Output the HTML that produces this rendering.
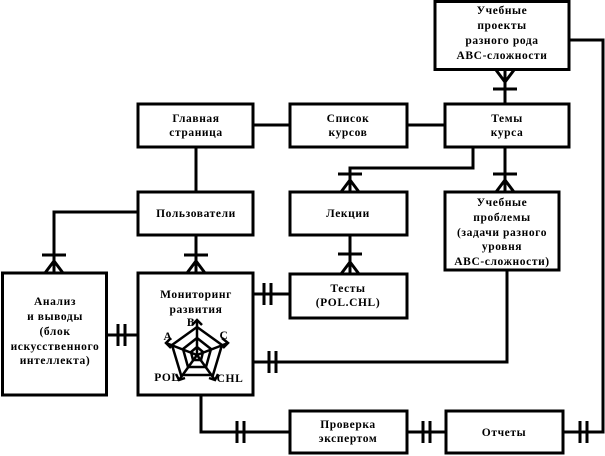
<!DOCTYPE html>
<html><head><meta charset="utf-8"><style>
html,body{margin:0;padding:0;background:#fff}
svg{display:block}
text{font-family:"Liberation Serif","DejaVu Serif",serif;font-size:11.5px;font-weight:bold;text-anchor:middle;fill:#000;letter-spacing:0.6px}
</style></head><body>
<svg width="605" height="456" viewBox="0 0 605 456" xmlns="http://www.w3.org/2000/svg">
<g fill="none" stroke="#000" stroke-width="3">
<rect x="435" y="1.5" width="134" height="68"/>
<rect x="445" y="104" width="124" height="43"/>
<rect x="290" y="104" width="117" height="43"/>
<rect x="138" y="104" width="115" height="43"/>
<rect x="138" y="192" width="115" height="43"/>
<rect x="290" y="192" width="117" height="43"/>
<rect x="445" y="192" width="114" height="78"/>
<rect x="2.5" y="273" width="104" height="122"/>
<rect x="138" y="273" width="115" height="122"/>
<rect x="290" y="274" width="117" height="44"/>
<rect x="290" y="411" width="117" height="42"/>
<rect x="446" y="411" width="117" height="42"/>
<polyline points="569,40 603,40 603,432 563,432"/>
<line x1="505" y1="70" x2="505" y2="104"/>
<line x1="253" y1="125" x2="290" y2="125"/>
<line x1="407" y1="125" x2="445" y2="125"/>
<polyline points="473,147 473,168 350,168 350,192"/>
<line x1="505" y1="147" x2="505" y2="192"/>
<line x1="196" y1="147" x2="196" y2="192"/>
<line x1="196" y1="235" x2="196" y2="273"/>
<polyline points="138,212 54,212 54,273"/>
<line x1="106" y1="335" x2="138" y2="335"/>
<line x1="350" y1="235" x2="350" y2="274"/>
<line x1="253" y1="294" x2="290" y2="294"/>
<polyline points="507,270 507,362 253,362"/>
<polyline points="201,395 201,432 290,432"/>
<line x1="407" y1="432" x2="446" y2="432"/>
<line x1="493" y1="89" x2="517" y2="89"/>
<line x1="493" y1="174" x2="517" y2="174"/>
<line x1="338" y1="174" x2="362" y2="174"/>
<line x1="338" y1="254" x2="362" y2="254"/>
<line x1="184" y1="255" x2="208" y2="255"/>
<line x1="42" y1="255" x2="66" y2="255"/>
<line x1="118" y1="324" x2="118" y2="346"/><line x1="125" y1="324" x2="125" y2="346"/>
<line x1="264" y1="283" x2="264" y2="305"/><line x1="271" y1="283" x2="271" y2="305"/>
<line x1="269" y1="351" x2="269" y2="373"/><line x1="276" y1="351" x2="276" y2="373"/>
<line x1="237" y1="421" x2="237" y2="443"/><line x1="244" y1="421" x2="244" y2="443"/>
<line x1="423" y1="421" x2="423" y2="443"/><line x1="430" y1="421" x2="430" y2="443"/>
<line x1="580" y1="421" x2="580" y2="443"/><line x1="587" y1="421" x2="587" y2="443"/>
<polyline points="496,70 505,82 514,70"/>
<polyline points="496,192 505,180 514,192"/>
<polyline points="341,192 350,180 359,192"/>
<polyline points="341,274 350,262 359,274"/>
<polyline points="187,273 196,261 205,273"/>
<polyline points="45,273 54,261 63,273"/>
</g>
<g fill="none" stroke="#000" stroke-width="2.5">
<polygon points="197,327 222,345 213,375 181,375 172,345"/>
<polygon points="197,338 211,349 206,367 188,367 183,349"/>
<polygon points="197,347 203,352 201,360 193,360 191,352"/>
<line x1="197" y1="355" x2="197" y2="320"/>
<line x1="197" y1="355" x2="228" y2="343"/>
<line x1="197" y1="355" x2="166" y2="343"/>
<line x1="197" y1="355" x2="179" y2="380"/>
<line x1="197" y1="355" x2="215" y2="380"/>
<polyline points="192,325 197,320 202,325"/>
<polyline points="222,338 228,343 223,348"/>
<polyline points="171,338 166,343 171,348"/>
<polyline points="176,374 179,380 185,378"/>
<polyline points="209,378 215,380 218,374"/>
</g>
<g style="font-size:7px;letter-spacing:0">
<text x="191" y="326">B</text><text x="224" y="339">C</text><text x="168" y="340">A</text>
<text x="167" y="381">POL</text><text x="230" y="382">CHL</text>
</g>
<text x="502" y="14">Учебные</text><text x="502" y="29">проекты</text><text x="502" y="44">разного рода</text><text x="502" y="59">ABC-сложности</text>
<text x="507" y="122">Темы</text><text x="507" y="136">курса</text>
<text x="348" y="122">Список</text><text x="348" y="136">курсов</text>
<text x="196" y="122">Главная</text><text x="196" y="136">страница</text>
<text x="196" y="217">Пользователи</text>
<text x="348" y="217">Лекции</text>
<text x="502" y="206">Учебные</text><text x="502" y="221">проблемы</text><text x="502" y="236">(задачи разного</text><text x="502" y="250">уровня</text><text x="502" y="265">ABC-сложности)</text>
<text x="55" y="305">Анализ</text><text x="55" y="320">и выводы</text><text x="55" y="335">(блок</text><text x="55" y="350">искусственного</text><text x="55" y="364">интеллекта)</text>
<text x="196" y="298">Мониторинг</text><text x="196" y="313">развития</text>
<text x="348" y="292">Тесты</text><text x="348" y="306">(POL.CHL)</text>
<text x="348" y="428">Проверка</text><text x="348" y="442">экспертом</text>
<text x="504" y="436">Отчеты</text>
</svg>
</body></html>
